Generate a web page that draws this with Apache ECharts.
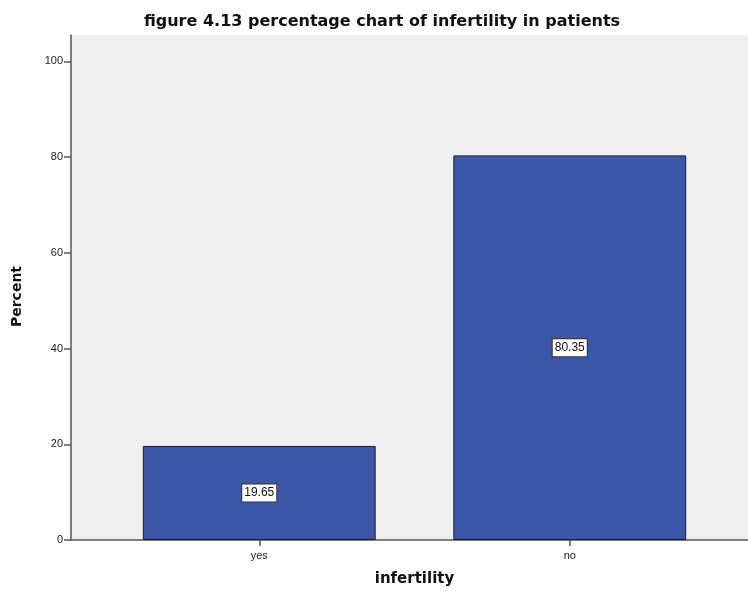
<!DOCTYPE html>
<html>
<head>
<meta charset="utf-8">
<script src="https://cdn.jsdelivr.net/npm/echarts@6/dist/echarts.min.js"></script>
<style>html,body{margin:0;padding:0;background:#fff}#c{width:748px;height:595px}</style>
</head>
<body>
<div id="c"></div>
<script>
var categories = ['yes', 'no'];
var percentValues = [19.65, 80.35];
var yTickValues = [0, 20, 40, 60, 80, 100];

var chart = echarts.init(document.getElementById('c'), null, {renderer: 'canvas'});
var axisColor = '#555555';
chart.setOption({
  animation: false,
  title: {
    text: 'figure 4.13 percentage chart of infertility in patients',
    left: 377, top: 9, textAlign: 'center',
    textStyle: {fontFamily: 'DejaVu Sans', fontWeight: 'bold', fontSize: 16, color: '#111'}
  },
  grid: [
    {left: 71, right: 0, top: 35, bottom: 55, show: true, backgroundColor: '#f0f0f0', borderWidth: 0},
    {left: 104, right: 23, top: 35, bottom: 55}
  ],
  xAxis: [
    {
      gridIndex: 0, type: 'value', min: 0, max: 1,
      axisLine: {show: true, lineStyle: {color: axisColor, width: 1.5}},
      axisTick: {show: false}, axisLabel: {show: false}, splitLine: {show: false},
      name: 'infertility', nameLocation: 'middle', nameGap: 32,
      nameTextStyle: {fontFamily: 'DejaVu Sans', fontWeight: 'bold', fontSize: 15, color: '#111', padding: [0, 0, 0, 10]}
    },
    {
      gridIndex: 1, type: 'category', data: categories,
      axisLine: {show: false},
      axisTick: {show: true, alignWithLabel: true, length: 6, lineStyle: {color: axisColor, width: 1.5}},
      axisLabel: {fontFamily: 'Liberation Sans', fontSize: 11, color: '#222', margin: 10}
    }
  ],
  yAxis: [
    {
      gridIndex: 0, type: 'value', min: 0, max: 105.5, interval: 20,
      axisLine: {show: true, lineStyle: {color: axisColor, width: 1.5}},
      axisTick: {show: true, length: 7, customValues: yTickValues, lineStyle: {color: axisColor, width: 1.5}},
      axisLabel: {customValues: yTickValues, fontFamily: 'Liberation Sans', fontSize: 11, color: '#222', margin: 8},
      splitLine: {show: false},
      name: 'Percent', nameLocation: 'middle', nameGap: 47,
      nameTextStyle: {fontFamily: 'DejaVu Sans', fontWeight: 'bold', fontSize: 14, color: '#111', padding: [0, 18, 0, 0]}
    },
    {
      gridIndex: 1, type: 'value', min: 0, max: 105.5, show: false
    }
  ],
  series: [{
    type: 'bar', xAxisIndex: 1, yAxisIndex: 1,
    data: percentValues,
    barWidth: '75%',
    itemStyle: {color: '#3d57a8', borderColor: '#1c1c2c', borderWidth: 1},
    label: {
      show: true, position: 'inside',
      formatter: function (p) { return p.value.toFixed(2); },
      fontFamily: 'Liberation Sans', fontSize: 12, color: '#111',
      backgroundColor: '#ffffff', borderColor: '#333333', borderWidth: 1,
      padding: [3, 2, 2, 2]
    }
  }]
});
</script>
</body>
</html>
